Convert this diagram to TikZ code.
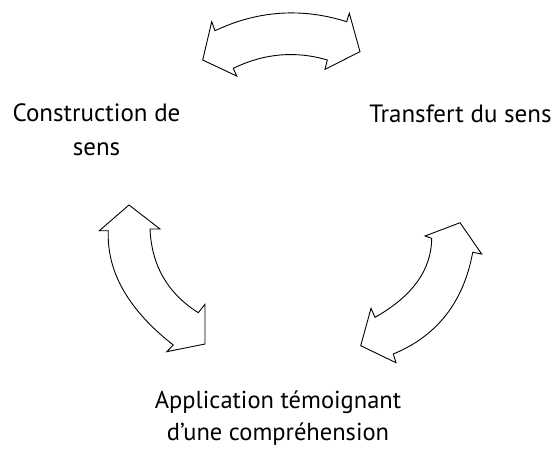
\documentclass[tikz,border=0pt]{standalone}
\usepackage{fontspec}
\setmainfont{PT Sans}

\tikzset{
  curvearrow/.style={draw=black, line width=0.9pt, line join=miter, fill=white},
  steplabel/.style={align=center, inner sep=0pt, font=\fontsize{25}{34}\selectfont}
}

\begin{document}
\begin{tikzpicture}[x=1pt, y=-1pt]
\useasboundingbox (0,0) rectangle (553,448);

% top arrow
\draw[curvearrow] (202.7,60) -- (211.7,21.7) -- (215,30.7)
    .. controls (257.8,10.5) and (301.7,7.5) .. (346.7,21.7)
    -- (349.3,13.3) -- (360,51.7) -- (325,69.3) -- (327.3,60)
    .. controls (295.6,50.6) and (264.2,53.3) .. (233.3,68.3)
    -- (236.7,76) -- cycle;

% left arrow
\draw[curvearrow] (129,205) -- (160,229) -- (150,229)
    .. controls (151.6,265.5) and (167.7,293.4) .. (198.3,312.7)
    -- (205,304.3) -- (205,344) -- (166.7,351.7) -- (173.3,345)
    .. controls (128.3,309.8) and (106.6,271.7) .. (108.3,230.7)
    -- (99.3,230.7) -- cycle;

% right arrow
\draw[curvearrow] (460,222.7) -- (481.7,254) -- (472.7,252.3)
    .. controls (463.6,302) and (437.1,335.9) .. (393.3,354)
    -- (396,362.7) -- (360.7,345.7) -- (371,308.3) -- (375,317.3)
    .. controls (412.5,296.2) and (431.4,269.8) .. (431.7,238.3)
    -- (425,236) -- cycle;

\node[steplabel] (construction) at (96.5,130) {Construction de\\sens};
\node[steplabel] (transfert) at (460.5,114) {Transfert du sens};
\node[steplabel, font=\fontsize{24.5}{32}\selectfont] (application) at (278,418.5) {Application témoignant\\d’une compréhension};
\end{tikzpicture}
\end{document}
